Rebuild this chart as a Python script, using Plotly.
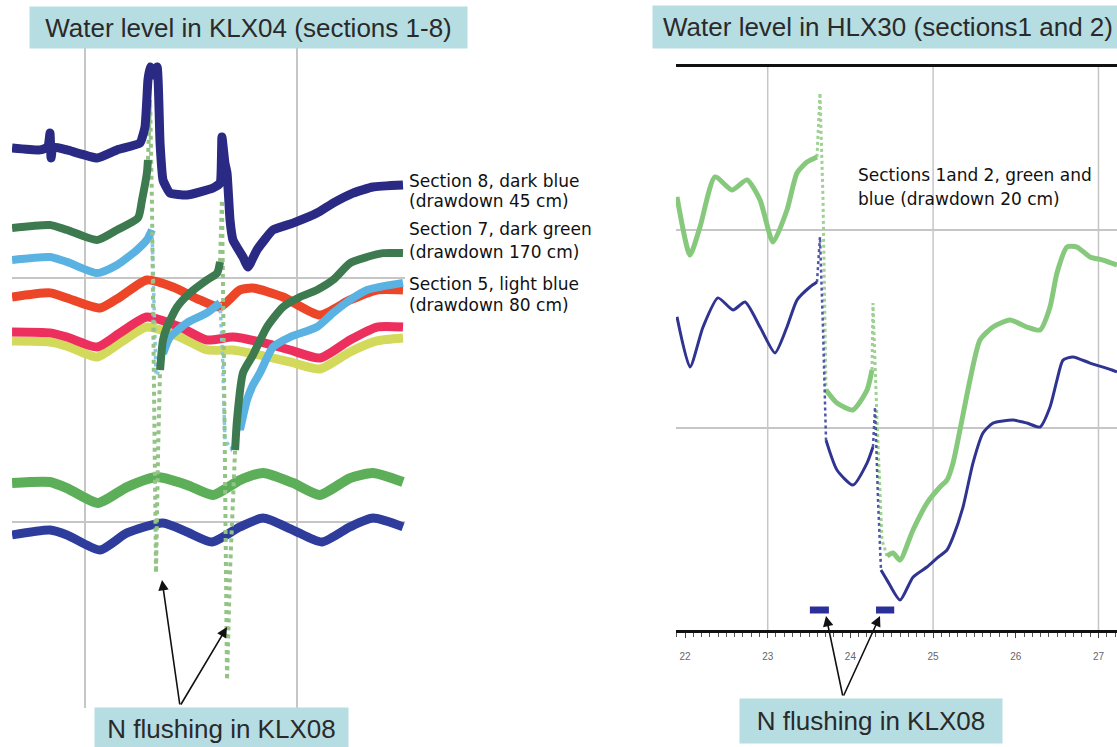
import plotly.graph_objects as go

W, H = 1117, 747

# ---------------- KLX04: water level (m, relative) vs time (days) ----------------
sec8_t = [-0.344, -0.212, -0.175, -0.165, -0.160, -0.151, -0.085, 0.057, 0.151, 0.259,
          0.283, 0.297, 0.307, 0.321, 0.340, 0.354, 0.368, 0.401, 0.481, 0.604,
          0.637, 0.646, 0.660, 0.670, 0.684, 0.698, 0.745, 0.769, 0.811, 0.887,
          0.981, 1.094, 1.170, 1.264, 1.358, 1.500]
sec8_m = [0.533, 0.525, 0.537, 0.594, 0.492, 0.537, 0.525, 0.492, 0.525, 0.553,
          0.619, 0.811, 0.865, 0.832, 0.865, 0.553, 0.402, 0.348, 0.340, 0.369,
          0.389, 0.578, 0.471, 0.430, 0.238, 0.156, 0.086, 0.045, 0.115, 0.197,
          0.225, 0.266, 0.307, 0.348, 0.373, 0.381]

sec7_t = [-0.344, -0.165, -0.085, 0.057, 0.151, 0.250, 0.269, 0.292, 0.297,
          0.307, 0.316, 0.328, 0.335, 0.345, 0.354,
          0.368, 0.387, 0.434, 0.495, 0.575, 0.623, 0.637,
          0.646, 0.656, 0.670, 0.684, 0.708,
          0.717, 0.745, 0.792, 0.858, 0.934, 1.014, 1.094, 1.170, 1.250, 1.330, 1.406, 1.500]
sec7_m = [0.205, 0.217, 0.197, 0.156, 0.197, 0.246, 0.320, 0.430, 0.484,
          0.730, 0.300, -0.600, -1.209, -0.700, -0.377,
          -0.254, -0.201, -0.119, -0.061, -0.008, 0.020, 0.066,
          0.320, -0.400, -1.648, -1.200, -0.705,
          -0.582, -0.389, -0.316, -0.201, -0.119, -0.078, -0.049, -0.008, 0.061, 0.086, 0.102, 0.102]
sec7_fast = [(0.297, 0.354), (0.637, 0.708)]

sec5_t = [-0.344, -0.165, -0.085, 0.057, 0.151, 0.245, 0.292, 0.316,
          0.326, 0.335, 0.350,
          0.368, 0.387, 0.401, 0.481, 0.575, 0.637,
          0.648, 0.660, 0.690, 0.731,
          0.764, 0.792, 0.825, 0.887, 0.967, 1.094, 1.170, 1.250, 1.330, 1.500]
sec5_m = [0.074, 0.086, 0.066, 0.020, 0.053, 0.115, 0.156, 0.197,
          -0.150, -0.400, -0.380,
          -0.310, -0.266, -0.242, -0.184, -0.143, -0.102,
          -0.300, -0.664, -0.700, -0.623,
          -0.500, -0.439, -0.389, -0.283, -0.242, -0.201, -0.143, -0.090, -0.049, -0.020]
sec5_fast = [(0.316, 0.368), (0.637, 0.731)]

red_t = [-0.344, -0.165, -0.085, 0.071, 0.165, 0.292, 0.415, 0.542, 0.637, 0.731,
         0.792, 0.934, 1.108, 1.250, 1.377, 1.500]
red_m = [-0.078, -0.061, -0.082, -0.123, -0.078, -0.008, -0.037, -0.090, -0.119, -0.049,
         -0.041, -0.078, -0.152, -0.090, -0.049, -0.049]

pink_t = [-0.344, -0.165, -0.085, 0.057, 0.165, 0.292, 0.448, 0.575, 0.698, 0.825,
          0.967, 1.108, 1.250, 1.377, 1.500]
pink_m = [-0.221, -0.225, -0.242, -0.283, -0.225, -0.160, -0.201, -0.254, -0.242, -0.262,
          -0.295, -0.328, -0.254, -0.201, -0.201]

yellow_t = [-0.344, -0.165, -0.085, 0.057, 0.165, 0.292, 0.448, 0.575, 0.698, 0.825,
            0.967, 1.108, 1.250, 1.377, 1.500]
yellow_m = [-0.258, -0.262, -0.279, -0.324, -0.266, -0.201, -0.242, -0.295, -0.295, -0.316,
            -0.344, -0.373, -0.303, -0.258, -0.246]

green_lo_t = [-0.344, -0.165, -0.085, 0.061, 0.198, 0.340, 0.481, 0.604, 0.731, 0.840,
              0.981, 1.108, 1.250, 1.358, 1.500]
green_lo_m = [-0.840, -0.836, -0.861, -0.922, -0.857, -0.816, -0.848, -0.889, -0.828, -0.799,
              -0.840, -0.889, -0.820, -0.799, -0.836]

blue_lo_t = [-0.344, -0.165, -0.085, 0.071, 0.198, 0.368, 0.481, 0.599, 0.731, 0.840,
             0.981, 1.118, 1.250, 1.358, 1.500]
blue_lo_m = [-1.053, -1.033, -1.053, -1.115, -1.045, -1.004, -1.041, -1.082, -1.020, -0.984,
             -1.033, -1.082, -1.020, -0.984, -1.020]

# ---------------- HLX30: water level (cm) vs day ----------------
hlx_green_d = [21.903, 22.060, 22.181, 22.363, 22.568, 22.750, 22.907, 23.064, 23.233, 23.354,
               23.475, 23.596, 23.632, 23.669, 23.705, 23.838, 24.031, 24.201, 24.261, 24.273,
               24.322, 24.382, 24.443, 24.515, 24.600, 24.757, 24.926, 25.083, 25.168, 25.241,
               25.325, 25.446, 25.567, 25.724, 25.930, 26.135, 26.293, 26.414, 26.498, 26.619,
               26.740, 26.897, 27.054, 27.224]
hlx_green_cm = [21.67, 18.74, 20.15, 22.68, 22.02, 22.53, 21.52, 19.39, 21.01, 22.88,
                23.43, 23.69, 26.92, 21.52, 11.92, 11.26, 10.91, 11.92, 12.93, 16.31,
                10.40, 4.34, 3.54, 3.69, 3.33, 4.85, 6.21, 7.02, 7.37, 8.23,
                9.90, 12.42, 14.44, 15.10, 15.45, 15.10, 14.95, 16.11, 17.83, 19.14,
                19.14, 18.64, 18.48, 18.23]
hlx_green_fast = [(23.596, 23.705), (24.261, 24.443)]

hlx_blue_d = [21.903, 22.060, 22.218, 22.399, 22.580, 22.726, 22.907, 23.088, 23.233, 23.354,
              23.511, 23.596, 23.632, 23.669, 23.705, 23.838, 24.031, 24.201, 24.273, 24.298,
              24.334, 24.370, 24.443, 24.600, 24.757, 24.926, 25.047, 25.168, 25.241, 25.362,
              25.482, 25.603, 25.724, 25.966, 26.135, 26.293, 26.414, 26.498, 26.571, 26.692,
              26.897, 27.163, 27.224]
hlx_blue_cm = [15.61, 13.08, 15.10, 16.57, 15.96, 16.36, 15.10, 13.79, 15.10, 16.46,
               17.12, 17.37, 19.65, 14.95, 9.39, 7.88, 7.12, 8.23, 9.04, 11.06,
               6.36, 2.83, 2.32, 1.31, 2.47, 2.98, 3.43, 3.84, 4.49, 6.01,
               8.23, 9.75, 10.25, 10.40, 10.25, 10.05, 11.06, 12.42, 13.43, 13.59,
               13.28, 12.93, 12.83]
hlx_blue_fast = [(23.596, 23.705), (24.273, 24.370)]

# flushing periods in KLX08 (days) and the level the bars are drawn at (cm)
flush_start = [23.51, 24.31]
flush_end = [23.74, 24.53]
flush_level = 0.81

day_ticks = [22, 23, 24, 25, 26, 27]
day_grid = [23, 25, 27]

left_labels = ["Section 8, dark blue", "(drawdown 45 cm)",
               "Section 7, dark green", "(drawdown 170 cm)",
               "Section 5, light blue", "(drawdown 80 cm)"]
right_label = ["Sections 1and 2, green and", "blue (drawdown 20 cm)"]

FONT = "Liberation Sans, Arial, sans-serif"
NOTE_FONT = "DejaVu Sans, Verdana, sans-serif"
BOX = "#b6dde2"
GRID = "#c6c6c6"


def split_fast(t, v, windows):
    """Split a series into its slow part (thick) and fast transients (thin)."""
    slow_t, slow_v, fast_t, fast_v = [], [], [], []
    for a, b in zip(t, v):
        inside = any(lo < a < hi for lo, hi in windows)
        if inside:
            if slow_t and slow_t[-1] is not None:
                slow_t.append(None)
                slow_v.append(None)
        else:
            slow_t.append(a)
            slow_v.append(b)
    for lo, hi in windows:
        for a, b in zip(t, v):
            if lo <= a <= hi:
                fast_t.append(a)
                fast_v.append(b)
        fast_t.append(None)
        fast_v.append(None)
    return slow_t, slow_v, fast_t, fast_v


def px(xp):
    return xp / W


def py(yp):
    return 1 - yp / H


fig = go.Figure()


def thick(t, v, color, width, axes=("x", "y"), smooth=0.6):
    fig.add_trace(go.Scatter(x=t, y=v, mode="lines", xaxis=axes[0], yaxis=axes[1],
                             line=dict(color=color, width=width, shape="spline", smoothing=smooth),
                             hoverinfo="skip", connectgaps=False))


def thin(t, v, color, width, axes=("x", "y")):
    fig.add_trace(go.Scatter(x=t, y=v, mode="lines", xaxis=axes[0], yaxis=axes[1],
                             line=dict(color=color, width=width, dash="dot"),
                             hoverinfo="skip", connectgaps=False))


# KLX04 panel
thick(yellow_t, yellow_m, "#d3d95a", 9)
thick(pink_t, pink_m, "#ec2f5c", 9)
thick(red_t, red_m, "#ec4528", 9)
thick(green_lo_t, green_lo_m, "#5cae58", 10)
thick(blue_lo_t, blue_lo_m, "#2e3c9c", 9)

s5 = split_fast(sec5_t, sec5_m, sec5_fast)
thin(s5[2], s5[3], "#8cc8e6", 3.5)
thick(s5[0], s5[1], "#5ab2e3", 8)

s7 = split_fast(sec7_t, sec7_m, sec7_fast)
thin(s7[2], s7[3], "#93c485", 4)
thick(s7[0], s7[1], "#3d7a50", 8)

thick(sec8_t, sec8_m, "#2a2a84", 9, smooth=0.4)

# HLX30 panel
g = split_fast(hlx_green_d, hlx_green_cm, hlx_green_fast)
thin(g[2], g[3], "#9ed193", 3, axes=("x2", "y2"))
thick(g[0], g[1], "#86c97c", 5, axes=("x2", "y2"))

b = split_fast(hlx_blue_d, hlx_blue_cm, hlx_blue_fast)
thin(b[2], b[3], "#4f56a8", 2.5, axes=("x2", "y2"))
thick(b[0], b[1], "#2f3491", 3, axes=("x2", "y2"))

for s, e in zip(flush_start, flush_end):
    fig.add_trace(go.Scatter(x=[s, e], y=[flush_level, flush_level], mode="lines",
                             xaxis="x2", yaxis="y2", hoverinfo="skip",
                             line=dict(color="#2a2f9a", width=7)))

shapes = [dict(type="line", xref="x2", yref="y2 domain", x0=d, x1=d, y0=0, y1=1,
               line=dict(color=GRID, width=1.5), layer="below") for d in day_grid]

annotations = []


def label_box(text, cx, cy, w, h):
    annotations.append(dict(text=text, x=px(cx), y=py(cy), xref="paper", yref="paper",
                            xanchor="center", yanchor="middle", showarrow=False,
                            bgcolor=BOX, width=w, height=h, borderpad=0,
                            font=dict(family=FONT, size=26, color="#2a2a2a")))


label_box("Water level in KLX04 (sections 1-8)", 248.5, 27.5, 437, 41)
label_box("Water level in HLX30 (sections1 and 2)", 888, 27, 470, 42)
label_box("N flushing in KLX08", 221.5, 729, 253, 42)
label_box("N flushing in KLX08", 871, 721, 262, 44)

# section labels
for txt, yy in zip(left_labels, [181, 201, 229, 252, 284, 305]):
    annotations.append(dict(text=txt, x=px(407), y=py(yy), xref="paper", yref="paper",
                            xanchor="left", yanchor="middle", showarrow=False,
                            font=dict(family=NOTE_FONT, size=17, color="#111")))
for txt, yy in zip(right_label, [175, 199]):
    annotations.append(dict(text=txt, x=px(856), y=py(yy), xref="paper", yref="paper",
                            xanchor="left", yanchor="middle", showarrow=False,
                            font=dict(family=NOTE_FONT, size=17, color="#111")))

# arrows from the label boxes
for (hx, hy), (tx, ty) in [((162, 580), (180, 706)), ((227, 627), (180, 706)),
                           ((826, 616), (843, 697)), ((880, 616), (843, 697))]:
    annotations.append(dict(text="", x=px(hx), y=py(hy), xref="paper", yref="paper",
                            ax=tx - hx, ay=ty - hy, showarrow=True, arrowhead=2,
                            arrowsize=1.3, arrowwidth=1.6, arrowcolor="#111", standoff=0))

fig.update_layout(
    width=W, height=H, margin=dict(l=0, r=0, t=0, b=0),
    paper_bgcolor="white", plot_bgcolor="white", showlegend=False,
    xaxis=dict(domain=[px(12), px(405)], range=[-0.3443, 1.5094], tickvals=[0, 1],
               showgrid=True, gridcolor=GRID, gridwidth=1.5, showticklabels=False,
               ticks="", zeroline=False, showline=False),
    yaxis=dict(domain=[py(708), py(45)], range=[-1.7623, 0.9549], tickvals=[-1, 0],
               showgrid=True, gridcolor=GRID, gridwidth=1.5, showticklabels=False,
               ticks="", zeroline=False, showline=False),
    xaxis2=dict(domain=[px(676), 1], range=[21.891, 27.224], tickvals=day_ticks,
                ticktext=[str(d) for d in day_ticks], showgrid=False, zeroline=False,
                showline=True, linewidth=3, linecolor="#111", mirror=True,
                ticks="outside", ticklen=5, tickwidth=1.2, tickcolor="#444",
                minor=dict(ticks="outside", dtick=0.1, ticklen=4, tickwidth=1, tickcolor="#555"),
                tickfont=dict(family=FONT, size=10, color="#666"), ticklabelstandoff=10,
                anchor="y2"),
    yaxis2=dict(domain=[py(630), py(67)], range=[-0.20, 28.23], tickvals=[10, 20],
                showgrid=True, gridcolor=GRID, gridwidth=1.5, showticklabels=False,
                ticks="", zeroline=False, showline=False, anchor="x2"),
    shapes=shapes,
    annotations=annotations,
)

fig.write_html("out.html")
